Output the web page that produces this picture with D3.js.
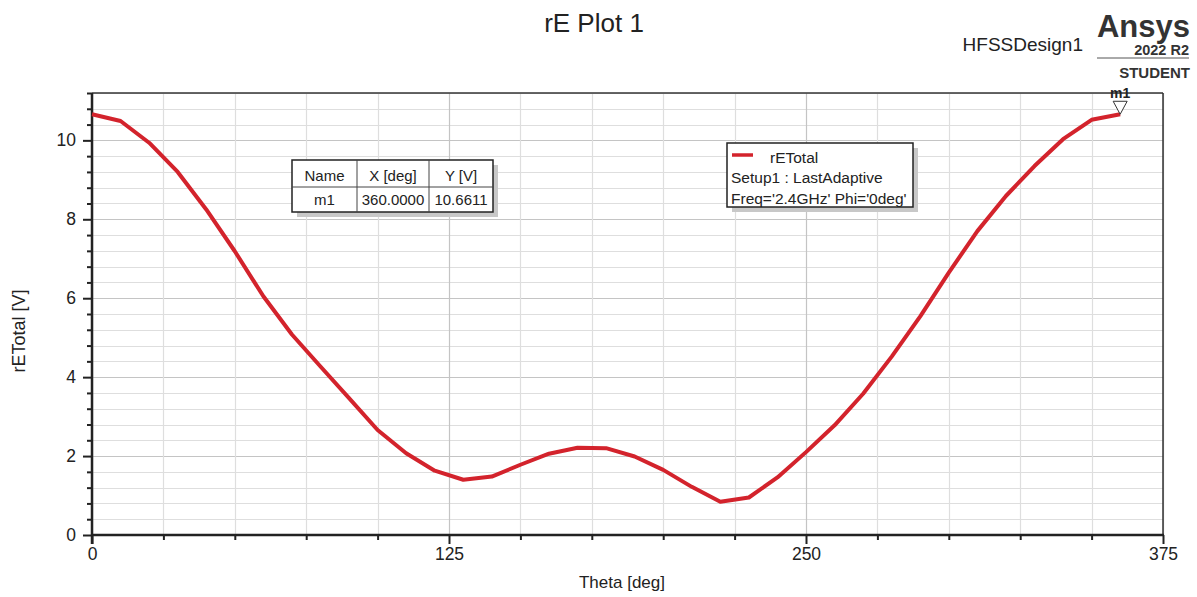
<!DOCTYPE html>
<meta charset="utf-8">
<title>rE Plot 1</title>
<style>
  body { margin: 0; background: #fff; }
  svg { display: block; font-family: "Liberation Sans", Arial, sans-serif; }
</style>
<body>
<script src="https://cdn.jsdelivr.net/npm/d3@7"></script>
<script>
// data (theta in deg, rETotal in V)
var theta = [0, 10, 20, 30, 40, 50, 60, 70, 80, 90, 100, 110, 120, 130, 140, 150, 160, 170, 180,
             190, 200, 210, 220, 230, 240, 250, 260, 270, 280, 290, 300, 310, 320, 330, 340, 350, 360];
var rETotal = [10.66, 10.49, 9.94, 9.20, 8.25, 7.19, 6.05, 5.08, 4.27, 3.47, 2.66, 2.07, 1.63, 1.40,
               1.48, 1.78, 2.06, 2.21, 2.20, 1.99, 1.65, 1.22, 0.84, 0.95, 1.46, 2.10, 2.78, 3.58,
               4.52, 5.54, 6.65, 7.70, 8.59, 9.35, 10.03, 10.52, 10.6611];
var xTicks = [0, 125, 250, 375];
var yTicks = [0, 2, 4, 6, 8, 10];
var markerName = "m1", markerX = 360, markerY = 10.6611;
var legendLines = ["rETotal", "Setup1 : LastAdaptive", "Freq='2.4GHz' Phi='0deg'"];

//==================================================================
var width = 1197, height = 597;
var plotL = 92, plotR = 1163, plotT = 93, plotB = 535;

var x = d3.scaleLinear().domain([0, 375]).range([plotL, plotR]);
var y = d3.scaleLinear().domain([0, 11.2]).range([plotB, plotT]);

var red = '#d3232c';

var svg = d3.select("body").append("svg")
    .attr("width", width)
    .attr("height", height);

// grid ============================================================
var xMinor = d3.range(0, 376, 25);
var yMinor = d3.range(0, 29).map(function(i) { return +(i * 0.4).toFixed(1); });

svg.append('g').selectAll('line')
    .data(yMinor)
    .enter().append('line')
    .attr('x1', plotL).attr('x2', plotR)
    .attr('y1', function(d) { return Math.round(y(d)) + 0.5; })
    .attr('y2', function(d) { return Math.round(y(d)) + 0.5; })
    .style('stroke', function(d, i) { return i % 5 == 0 ? '#c4c4c4' : '#dedede'; })
    .style('stroke-width', 1.2);

svg.append('g').selectAll('line')
    .data(xMinor)
    .enter().append('line')
    .attr('y1', plotT).attr('y2', plotB)
    .attr('x1', function(d) { return Math.round(x(d)) + 0.5; })
    .attr('x2', function(d) { return Math.round(x(d)) + 0.5; })
    .style('stroke', function(d) { return d % 125 == 0 ? '#c4c4c4' : '#dedede'; })
    .style('stroke-width', 1.2);

// frame =============================================================
svg.append('line').attr('x1', plotL).attr('x2', plotR).attr('y1', plotT).attr('y2', plotT)
    .style('stroke', '#333').style('stroke-width', 1.5);
svg.append('line').attr('x1', plotR).attr('x2', plotR).attr('y1', plotT).attr('y2', plotB)
    .style('stroke', '#333').style('stroke-width', 1.5);

// axes ==============================================================
var xAxis = svg.append('g')
    .attr('transform', 'translate(0,' + plotB + ')')
    .call(d3.axisBottom(x).tickValues(xMinor).tickSize(5).tickFormat(''));
xAxis.select('.domain').remove();
xAxis.selectAll('.tick line').style('stroke', '#222').style('stroke-width', 2)
    .attr('y2', function(d) { return d % 125 == 0 ? 9 : 5; });

svg.append('g')
    .attr('transform', 'translate(0,' + plotB + ')')
    .call(d3.axisBottom(x).tickValues(xTicks).tickSize(0).tickPadding(13))
    .call(function(g) { g.select('.domain').remove(); })
    .selectAll('text')
    .style('font-size', '17.5px').style('fill', '#222')
    .attr('font-family', '"Liberation Sans", Arial, sans-serif');

var yAxis = svg.append('g')
    .attr('transform', 'translate(' + plotL + ',0)')
    .call(d3.axisLeft(y).tickValues(yMinor).tickSize(5).tickFormat(''));
yAxis.select('.domain').remove();
yAxis.selectAll('.tick line').style('stroke', '#222').style('stroke-width', 2)
    .attr('x2', function(d, i) { return i % 5 == 0 ? -9 : -5; });

svg.append('g')
    .attr('transform', 'translate(' + plotL + ',0)')
    .call(d3.axisLeft(y).tickValues(yTicks).tickSize(0).tickPadding(16))
    .call(function(g) { g.select('.domain').remove(); })
    .selectAll('text')
    .style('font-size', '17.5px').style('fill', '#222')
    .attr('font-family', '"Liberation Sans", Arial, sans-serif');

svg.append('line').attr('x1', plotL - 1).attr('x2', plotR + 1).attr('y1', plotB).attr('y2', plotB)
    .style('stroke', '#222').style('stroke-width', 2.5);
svg.append('line').attr('x1', plotL).attr('x2', plotL).attr('y1', plotT).attr('y2', plotB + 9)
    .style('stroke', '#222').style('stroke-width', 2.5);

// curve =============================================================
var line = d3.line()
    .x(function(d, i) { return x(theta[i]); })
    .y(function(d) { return y(d); });

svg.append('path')
    .datum(rETotal)
    .attr('d', line)
    .style('fill', 'none')
    .style('stroke', red)
    .style('stroke-width', 4)
    .style('stroke-linejoin', 'round');

// marker ============================================================
var mx = x(markerX), my = y(markerY);
svg.append('path')
    .attr('d', 'M' + (mx - 7) + ',' + (my - 13) + 'L' + (mx + 7) + ',' + (my - 13) + 'L' + mx + ',' + my + 'Z')
    .style('fill', '#fff').style('stroke', '#333').style('stroke-width', 1);
svg.append('text')
    .attr('x', mx).attr('y', my - 16)
    .attr('text-anchor', 'middle')
    .style('font-size', '14px').style('font-weight', 'bold').style('fill', '#222')
    .text(markerName);

// marker table ======================================================
var tab = svg.append('g').attr('transform', 'translate(292,160)');
tab.append('rect').attr('x', 5).attr('y', 5).attr('width', 201).attr('height', 52).style('fill', '#c8c8c8');
tab.append('rect').attr('width', 201).attr('height', 52).style('fill', '#fff').style('stroke', '#222').style('stroke-width', 1.5);
tab.append('line').attr('x1', 0).attr('x2', 201).attr('y1', 27).attr('y2', 27).style('stroke', '#444');
tab.append('line').attr('x1', 65).attr('x2', 65).attr('y1', 0).attr('y2', 52).style('stroke', '#444');
tab.append('line').attr('x1', 137).attr('x2', 137).attr('y1', 0).attr('y2', 52).style('stroke', '#444');
var cols = [32.5, 101, 169];
var head = ['Name', 'X [deg]', 'Y [V]'];
var row = [markerName, markerX.toFixed(4), markerY.toFixed(4)];
for (var i = 0; i < 3; i++) {
    tab.append('text').attr('x', cols[i]).attr('y', 21).attr('text-anchor', 'middle')
        .style('font-size', '15px').style('fill', '#222').text(head[i]);
    tab.append('text').attr('x', cols[i]).attr('y', 45).attr('text-anchor', 'middle')
        .style('font-size', '15px').style('fill', '#222').text(row[i]);
}

// legend ============================================================
var leg = svg.append('g').attr('transform', 'translate(727,143)');
leg.append('rect').attr('x', 5).attr('y', 5).attr('width', 186).attr('height', 64).style('fill', '#c8c8c8');
leg.append('rect').attr('width', 186).attr('height', 64).style('fill', '#fff').style('stroke', '#222').style('stroke-width', 1.5);
leg.append('line').attr('x1', 5).attr('x2', 26).attr('y1', 12).attr('y2', 12).style('stroke', red).style('stroke-width', 3.5);
leg.append('text').attr('x', 43).attr('y', 20).style('font-size', '15.5px').style('fill', '#222').text(legendLines[0]);
leg.append('text').attr('x', 4).attr('y', 40).style('font-size', '15.5px').style('fill', '#222').text(legendLines[1]);
leg.append('text').attr('x', 4).attr('y', 61).style('font-size', '15.5px').style('fill', '#222').text(legendLines[2]);

// titles ============================================================
svg.append('text').attr('x', 594).attr('y', 32).attr('text-anchor', 'middle')
    .style('font-size', '26px').style('fill', '#222').text('rE Plot 1');
svg.append('text').attr('x', 1083).attr('y', 51).attr('text-anchor', 'end')
    .style('font-size', '19px').style('fill', '#222').text('HFSSDesign1');
svg.append('text').attr('x', 1190).attr('y', 37).attr('text-anchor', 'end')
    .style('font-size', '31px').style('font-weight', 'bold').style('fill', '#333').text('Ansys');
svg.append('text').attr('x', 1189).attr('y', 55).attr('text-anchor', 'end')
    .style('font-size', '14.5px').style('font-weight', 'bold').style('fill', '#333').text('2022 R2');
svg.append('line').attr('x1', 1097).attr('x2', 1189).attr('y1', 58).attr('y2', 58)
    .style('stroke', '#555').style('stroke-width', 1);
svg.append('text').attr('x', 1190).attr('y', 78).attr('text-anchor', 'end')
    .style('font-size', '15px').style('font-weight', 'bold').style('fill', '#333').text('STUDENT');

svg.append('text').attr('x', 622).attr('y', 588).attr('text-anchor', 'middle')
    .style('font-size', '17px').style('fill', '#222').text('Theta [deg]');
svg.append('text')
    .attr('transform', 'translate(25,' + 331 + ') rotate(-90)')
    .attr('text-anchor', 'middle')
    .style('font-size', '18px').style('fill', '#222').text('rETotal [V]');
</script>
</body>
